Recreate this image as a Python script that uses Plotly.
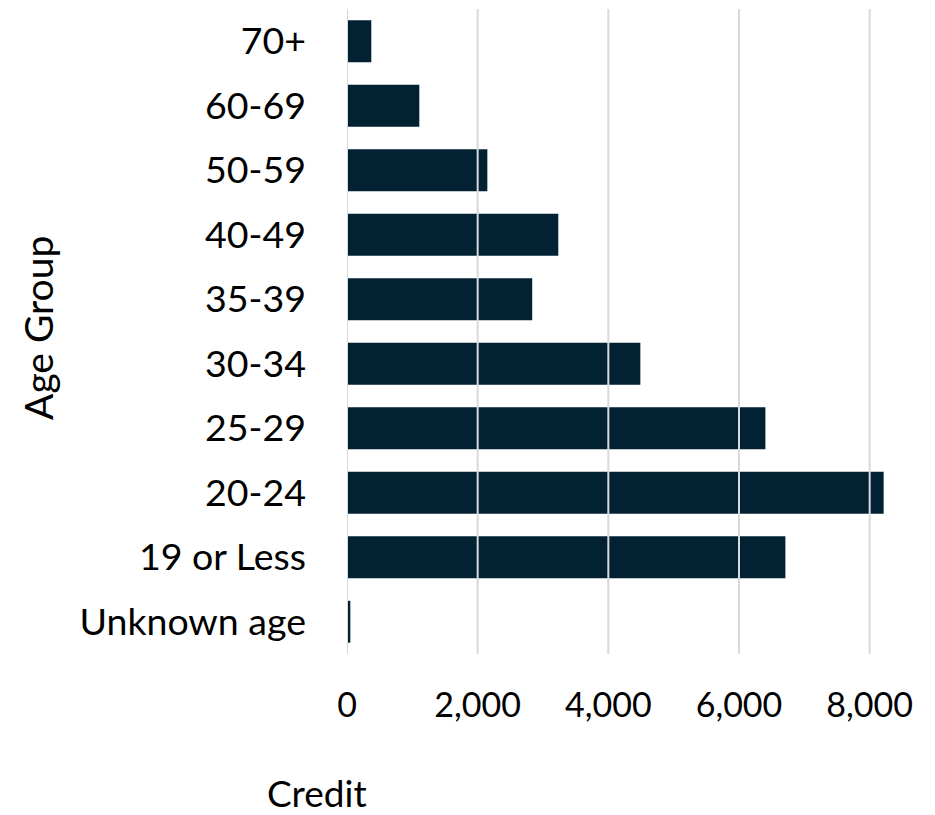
import plotly.graph_objects as go

categories = ["70+", "60-69", "50-59", "40-49", "35-39", "30-34", "25-29", "20-24", "19 or Less", "Unknown age"]
credit = [372, 1107, 2148, 3234, 2835, 4490, 6404, 8214, 6710, 51]
x_ticks = [0, 2000, 4000, 6000, 8000]
x_tick_labels = ["0", "2,000", "4,000", "6,000", "8,000"]

BAR = "#022234"
GRID = "#d9d9d9"
FONT = "Lato"
TXT = "#000000"

fig = go.Figure(go.Bar(
    x=credit, y=categories, orientation="h",
    marker=dict(color=BAR, line=dict(width=0)),
    width=0.65,
))

shapes = [dict(type="line", xref="x", yref="paper", x0=t, x1=t, y0=0, y1=1,
               line=dict(color=GRID, width=2), layer="above") for t in x_ticks]

# page body has an 8px margin, so the figure is laid out in page coords offset by 8
W, H = 927, 807
L, T, B = 339, 1, 161
PW, PH = W - L, H - T - B

fig.update_layout(
    width=W, height=H,
    margin=dict(l=L, r=0, t=T, b=B),
    plot_bgcolor="white", paper_bgcolor="white",
    showlegend=False,
    font=dict(family=FONT, size=34, color=TXT),
    xaxis=dict(range=[0, 9000], tickvals=x_ticks, ticktext=x_tick_labels,
               showgrid=False, zeroline=False, showline=False,
               ticks="", ticklabelstandoff=28,
               tickfont=dict(family=FONT, size=34, color=TXT)),
    yaxis=dict(categoryorder="array", categoryarray=categories[::-1],
               showgrid=False, zeroline=False, showline=False,
               ticks="", ticklabelstandoff=40,
               tickfont=dict(family=FONT, size=37.5, color=TXT)),
    shapes=shapes,
    annotations=[
        dict(text="Credit", xref="paper", yref="paper", x=(257 - L) / PW, y=-(784 - (T + PH)) / PH,
             xanchor="left", yanchor="middle", showarrow=False,
             font=dict(family=FONT, size=37, color=TXT)),
        dict(text="Age Group", xref="paper", yref="paper", x=(30 - L) / PW, y=((T + PH) - 320) / PH,
             xanchor="center", yanchor="middle", textangle=-90, showarrow=False,
             font=dict(family=FONT, size=39, color=TXT)),
    ],
)

fig.write_html("out.html")
